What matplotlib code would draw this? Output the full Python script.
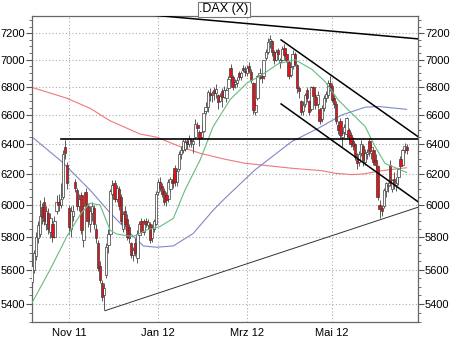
import numpy as np
import matplotlib
matplotlib.use("Agg")
import matplotlib.pyplot as plt
from matplotlib.ticker import FixedLocator, NullFormatter

# daily candles, trading day index 0 = 6 Oct 2011 ... 181 = 21 Jun 2012
opens = [5530, 5600, 5680, 5790, 5820, 5985, 6020, 5880, 5950, 5830,
         5880, 5800, 5960, 6020, 6000, 6050, 6380, 6260, 5980, 5850,
         5930, 6150, 6095, 5990, 6060, 5780, 6080, 5990, 5880, 5950,
         5980, 5850, 5760, 5620, 5520, 5450, 5570, 5750, 5820, 6070,
         6140, 6040, 6100, 6050, 5850, 5960, 5910, 5860, 5760, 5690,
         5760, 5670, 5810, 5900, 5830, 5895, 5870, 5880, 5790, 5850,
         5880, 6080, 6150, 6120, 6090, 6060, 6040, 6100, 6160, 6240,
         6150, 6230, 6330, 6360, 6370, 6420, 6400, 6430, 6400, 6450,
         6530, 6480, 6450, 6490, 6630, 6660, 6760, 6740, 6780, 6760,
         6740, 6700, 6770, 6730, 6720, 6790, 6940, 6870, 6820, 6830,
         6900, 6870, 6940, 6920, 6900, 6950, 6910, 6830, 6620, 6720,
         6890, 6880, 6880, 7010, 7060, 7140, 7140, 7060, 7000, 7070,
         6980, 7000, 7090, 7040, 6980, 6890, 6950, 7040, 6960, 6790,
         6700, 6630, 6680, 6780, 6700, 6640, 6800, 6730, 6680, 6640,
         6570, 6650, 6720, 6740, 6830, 6810, 6720, 6680, 6530, 6560,
         6450, 6480, 6470, 6500, 6460, 6420, 6400, 6300, 6280, 6340,
         6390, 6280, 6330, 6420, 6340, 6360, 6290, 6250, 6000, 5980,
         5990, 6090, 6120, 6260, 6100, 6170, 6130, 6180, 6300, 6260,
         6360, 6380]
highs = [5650, 5720, 5830, 5900, 6030, 6010, 6050, 5990, 5980, 5950,
         5910, 5930, 6060, 6070, 6140, 6360, 6430, 6280, 6000, 5990,
         6000, 6170, 6110, 6070, 6080, 6000, 6110, 6010, 5990, 6020,
         6000, 5880, 5780, 5650, 5540, 5520, 5760, 5850, 6100, 6160,
         6160, 6130, 6120, 6070, 5960, 5990, 5940, 5880, 5770, 5740,
         5790, 5840, 5900, 5920, 5910, 5920, 5910, 5890, 5880, 5910,
         6090, 6170, 6180, 6140, 6110, 6080, 6170, 6180, 6200, 6260,
         6240, 6350, 6390, 6440, 6440, 6440, 6460, 6440, 6440, 6570,
         6550, 6500, 6540, 6640, 6690, 6780, 6790, 6770, 6800, 6820,
         6750, 6760, 6790, 6810, 6790, 6880, 6970, 6890, 6860, 6870,
         6920, 6920, 6960, 6950, 6960, 6980, 6930, 6840, 6690, 6890,
         6940, 6900, 7000, 7080, 7160, 7190, 7150, 7070, 7080, 7090,
         7010, 7100, 7120, 7060, 6990, 6960, 7070, 7060, 6970, 6810,
         6710, 6700, 6760, 6800, 6710, 6810, 6810, 6760, 6770, 6650,
         6670, 6740, 6770, 6850, 6880, 6830, 6740, 6700, 6560, 6580,
         6500, 6540, 6590, 6510, 6480, 6450, 6410, 6340, 6350, 6430,
         6400, 6370, 6370, 6440, 6400, 6370, 6330, 6260, 6030, 6000,
         6110, 6150, 6150, 6290, 6170, 6210, 6180, 6240, 6320, 6370,
         6410, 6400]
lows = [5500, 5580, 5660, 5760, 5800, 5880, 5870, 5840, 5820, 5790,
        5770, 5790, 5940, 5960, 5980, 6040, 6300, 6100, 5820, 5800,
        5900, 6080, 5970, 5960, 5820, 5740, 5990, 5860, 5830, 5900,
        5850, 5760, 5590, 5520, 5420, 5365, 5550, 5700, 5800, 6050,
        6020, 6020, 5970, 5880, 5830, 5860, 5780, 5760, 5670, 5650,
        5680, 5640, 5790, 5810, 5810, 5860, 5850, 5760, 5770, 5830,
        5870, 6060, 6090, 6050, 6000, 5990, 6020, 6080, 6110, 6120,
        6120, 6220, 6300, 6340, 6350, 6370, 6380, 6380, 6340, 6440,
        6480, 6390, 6440, 6480, 6610, 6620, 6700, 6690, 6710, 6720,
        6640, 6690, 6660, 6720, 6690, 6780, 6840, 6780, 6790, 6800,
        6850, 6850, 6910, 6880, 6880, 6900, 6830, 6610, 6600, 6710,
        6860, 6830, 6860, 7000, 7040, 7090, 7030, 6970, 6990, 7000,
        6940, 6990, 7020, 6980, 6860, 6870, 6930, 6950, 6760, 6720,
        6600, 6600, 6660, 6690, 6600, 6630, 6720, 6640, 6650, 6540,
        6550, 6630, 6690, 6720, 6770, 6690, 6650, 6540, 6470, 6440,
        6380, 6450, 6450, 6420, 6380, 6360, 6290, 6230, 6250, 6320,
        6250, 6260, 6300, 6320, 6300, 6260, 6230, 6030, 5915, 5930,
        5980, 6050, 6080, 6120, 6080, 6100, 6090, 6130, 6220, 6250,
        6340, 6330]
closes = [5620, 5700, 5800, 5870, 5930, 5925, 5900, 5960, 5850, 5920,
          5800, 5900, 6020, 6000, 6040, 6330, 6340, 6140, 5860, 5960,
          5960, 6110, 5990, 6040, 5840, 5990, 6000, 5900, 5960, 5990,
          5880, 5790, 5610, 5540, 5440, 5490, 5740, 5820, 6090, 6130,
          6040, 6110, 5990, 5900, 5940, 5880, 5800, 5790, 5690, 5720,
          5700, 5820, 5880, 5830, 5900, 5880, 5890, 5780, 5860, 5900,
          6070, 6150, 6110, 6070, 6020, 6030, 6150, 6170, 6140, 6150,
          6220, 6330, 6360, 6420, 6416, 6404, 6436, 6419, 6422, 6539,
          6511, 6444, 6480, 6616, 6655, 6766, 6740, 6748, 6754, 6788,
          6692, 6736, 6728, 6778, 6780, 6860, 6870, 6800, 6840, 6850,
          6870, 6905, 6925, 6910, 6940, 6920, 6850, 6633, 6671, 6880,
          6900, 6866, 6995, 7060, 7130, 7157, 7060, 6996, 7055, 7040,
          6995, 7079, 7037, 6998, 6880, 6946, 7040, 6970, 6790, 6770,
          6620, 6674, 6743, 6720, 6625, 6801, 6732, 6671, 6740, 6560,
          6650, 6720, 6750, 6830, 6800, 6710, 6680, 6560, 6500, 6460,
          6475, 6520, 6580, 6450, 6400, 6390, 6310, 6270, 6330, 6400,
          6290, 6340, 6345, 6350, 6380, 6280, 6260, 6050, 5975, 5960,
          6095, 6140, 6130, 6140, 6160, 6150, 6140, 6230, 6250, 6360,
          6390, 6360]

# moving averages (day index, value)
ma20_x = [0, 8.8, 16.9, 24, 28.2, 33, 37.8, 41, 49.1, 55.5, 61.9, 68.4, 74,
          81.3, 87.6, 95.8, 104, 110.3, 119, 127.1, 135.2, 141.6, 148, 154.5,
          161, 165.8, 170.6, 176.2, 181]
ma20_y = [5404, 5599, 5800, 5950, 6010, 6000, 5842, 5817, 5801, 5842, 5863, 5915, 6095,
          6293, 6520, 6710, 6830, 6880, 6970, 7000, 6930, 6840, 6707, 6613,
          6520, 6383, 6270, 6238, 6210]
ma50_x = [0, 14.5, 18.5, 28.2, 37.8, 45.9, 53.9, 60.4, 68.4, 78, 87.7, 93.3,
          107.8, 125.5, 138.4, 149.7, 161, 167.4, 181]
ma50_y = [6451, 6282, 6227, 6095, 5950, 5842, 5744, 5736, 5744, 5821, 5967, 6042,
          6227, 6417, 6509, 6601, 6656, 6661, 6641]
ma200_x = [0, 16.9, 28.2, 37.8, 52.3, 60.4, 71.6, 81.3, 93.3, 103, 125.5, 140,
           146.5, 154.5, 160, 168, 178, 181]
ma200_y = [6798, 6720, 6648, 6561, 6469, 6447, 6383, 6338, 6298, 6271, 6238, 6222,
           6205, 6196, 6200, 6220, 6237, 6241]

# trend lines (day index, value)
resist_x, resist_y = [50, 186.5], [7352, 7157]
level_x, level_y = [14.2, 186.5], [6435, 6435]
chan_up_x, chan_up_y = [120.4, 186.5], [7149, 6451]
chan_lo_x, chan_lo_y = [120.4, 186.5], [6679, 6020]
support_x, support_y = [35.4, 186.5], [5362, 5985]

tick_pos = [18, 61, 104, 145]
tick_labels = ["Nov 11", "Jan 12", "Mrz 12", "Mai 12"]
y_ticks = [5400, 5600, 5800, 6000, 6200, 6400, 6600, 6800, 7000, 7200]

plt.rcParams["font.family"] = ["Liberation Sans", "DejaVu Sans"]

fig = plt.figure(figsize=(4.5, 3.38), dpi=100)
ax = fig.add_axes([31.7 / 450, 16 / 338, 386.3 / 450, 306 / 338])
ax.set_yscale("log")

o = np.array(opens)
h = np.array(highs)
l = np.array(lows)
c = np.array(closes)
x = np.arange(len(o))

# candles: wick, then white (up) or red (down) body
ax.vlines(x, l, h, color="#5a5a5a", lw=0.7, zorder=3)
up = c >= o
ax.bar(x[up], (c - o)[up], bottom=o[up], width=1.15, color="white",
       edgecolor="#3a3a3a", lw=0.5, zorder=4)
ax.bar(x[~up], (o - c)[~up], bottom=c[~up], width=1.15, color="#e3121b",
       edgecolor="#3a3a3a", lw=0.5, zorder=4)

ax.plot(ma200_x, ma200_y, color="#f07878", lw=0.8, zorder=2)
ax.plot(ma50_x, ma50_y, color="#7f88c9", lw=0.8, zorder=2)
ax.plot(ma20_x, ma20_y, color="#66bb7f", lw=0.8, zorder=5)

ax.plot(resist_x, resist_y, color="black", lw=1.1, zorder=6)
ax.plot(level_x, level_y, color="black", lw=1.2, zorder=6)
ax.plot(chan_up_x, chan_up_y, color="black", lw=1.1, zorder=6)
ax.plot(chan_lo_x, chan_lo_y, color="black", lw=1.1, zorder=6)
ax.plot(support_x, support_y, color="#333333", lw=0.7, zorder=6)

ax.set_xlim(0, 186.5)
ax.set_ylim(5298, 7333)
ax.yaxis.set_major_locator(FixedLocator(y_ticks))
ax.yaxis.set_minor_locator(FixedLocator(np.arange(5300, 7350, 50)))
ax.yaxis.set_major_formatter(matplotlib.ticker.FixedFormatter([str(v) for v in y_ticks]))
ax.yaxis.set_minor_formatter(NullFormatter())
ax.set_xticks(tick_pos)
ax.set_xticklabels(tick_labels)

ax.tick_params(axis="y", which="major", length=4, width=0.8, color="#555555",
               left=True, right=True, labelleft=True, labelright=True,
               labelsize=8, pad=1)
ax.tick_params(axis="y", which="minor", length=2, width=0.6, color="#555555",
               left=True, right=True)
ax.tick_params(axis="x", length=0, labelsize=8, pad=4)

ax.grid(True, which="major", color="#aaaaaa", lw=0.8, linestyle=(0, (1, 2)))
ax.set_axisbelow(True)
for s in ax.spines.values():
    s.set_color("#666666")
    s.set_linewidth(0.9)

fig.text(224 / 450, 1 - 9 / 338, ".DAX (X)", ha="center", va="center", fontsize=9,
         bbox=dict(boxstyle="square,pad=0.12", fc="white", ec="#777777", lw=0.8))

fig.savefig("out.png", dpi=100)
